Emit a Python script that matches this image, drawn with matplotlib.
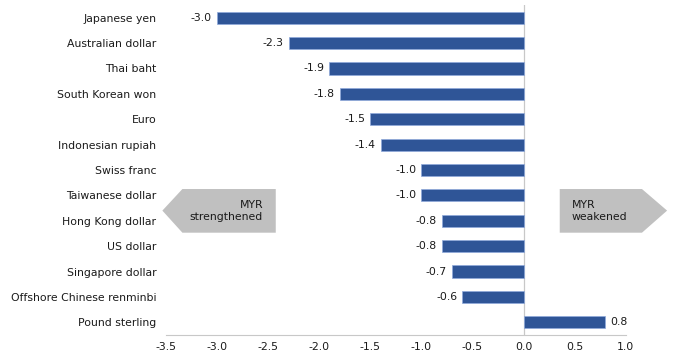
import numpy as np
import matplotlib.pyplot as plt
from matplotlib.patches import Polygon

currencies = ['Japanese yen', 'Australian dollar', 'Thai baht', 'South Korean won',
              'Euro', 'Indonesian rupiah', 'Swiss franc', 'Taiwanese dollar',
              'Hong Kong dollar', 'US dollar', 'Singapore dollar',
              'Offshore Chinese renminbi', 'Pound sterling']
change = [-3.0, -2.3, -1.9, -1.8, -1.5, -1.4, -1.0, -1.0, -0.8, -0.8, -0.7, -0.6, 0.8]
xticks = [-3.5, -3.0, -2.5, -2.0, -1.5, -1.0, -0.5, 0.0, 0.5, 1.0]

plt.rcParams['font.family'] = 'DejaVu Sans'
plt.rcParams['font.size'] = 7.8

fig = plt.figure(figsize=(6.75, 3.56), dpi=100)
ax = fig.add_axes([0.246, 0.059, 0.681, 0.927])

ys = np.arange(len(currencies))
ax.barh(ys, change, height=0.48, color='#2F5597', edgecolor='#8FAADC', linewidth=0.5, zorder=2)

## value labels
for y, v in zip(ys, change):
    if v < 0:
        ax.text(v - 0.05, y, '%.1f' % v, ha='right', va='center', color='#1a1a1a')
    else:
        ax.text(v + 0.05, y, '%.1f' % v, ha='left', va='center', color='#1a1a1a')

ax.set_xlim(-3.5, 1.0)
ax.set_ylim(len(currencies) - 0.5, -0.5)
ax.set_yticks(ys)
ax.set_yticklabels(currencies)
ax.set_xticks(xticks)
ax.set_xticklabels(['%.1f' % t for t in xticks])
ax.tick_params(axis='both', length=0, colors='#1a1a1a')
ax.tick_params(axis='x', pad=5)
ax.tick_params(axis='y', pad=7)

for s in ['top', 'right', 'left']:
    ax.spines[s].set_visible(False)
ax.spines['bottom'].set_color('#C8C8C8')
ax.axvline(0, color='#C8C8C8', lw=0.9, zorder=1)

## direction arrows
grey = '#C0C0C0'
left_arrow = Polygon([(-3.536, 7.6), (-3.34, 6.75), (-2.426, 6.75), (-2.426, 8.47), (-3.34, 8.47)],
                     closed=True, facecolor=grey, edgecolor='none', clip_on=False, zorder=0)
right_arrow = Polygon([(0.354, 6.75), (1.159, 6.75), (1.405, 7.6), (1.159, 8.47), (0.354, 8.47)],
                      closed=True, facecolor=grey, edgecolor='none', clip_on=False, zorder=0)
ax.add_patch(left_arrow)
ax.add_patch(right_arrow)
ax.text(-2.55, 7.6, 'MYR\nstrengthened', ha='right', va='center', multialignment='right',
        color='#1a1a1a', linespacing=1.25)
ax.text(0.47, 7.6, 'MYR\nweakened', ha='left', va='center', multialignment='left',
        color='#1a1a1a', linespacing=1.25)

fig.savefig('out.png', dpi=100)
